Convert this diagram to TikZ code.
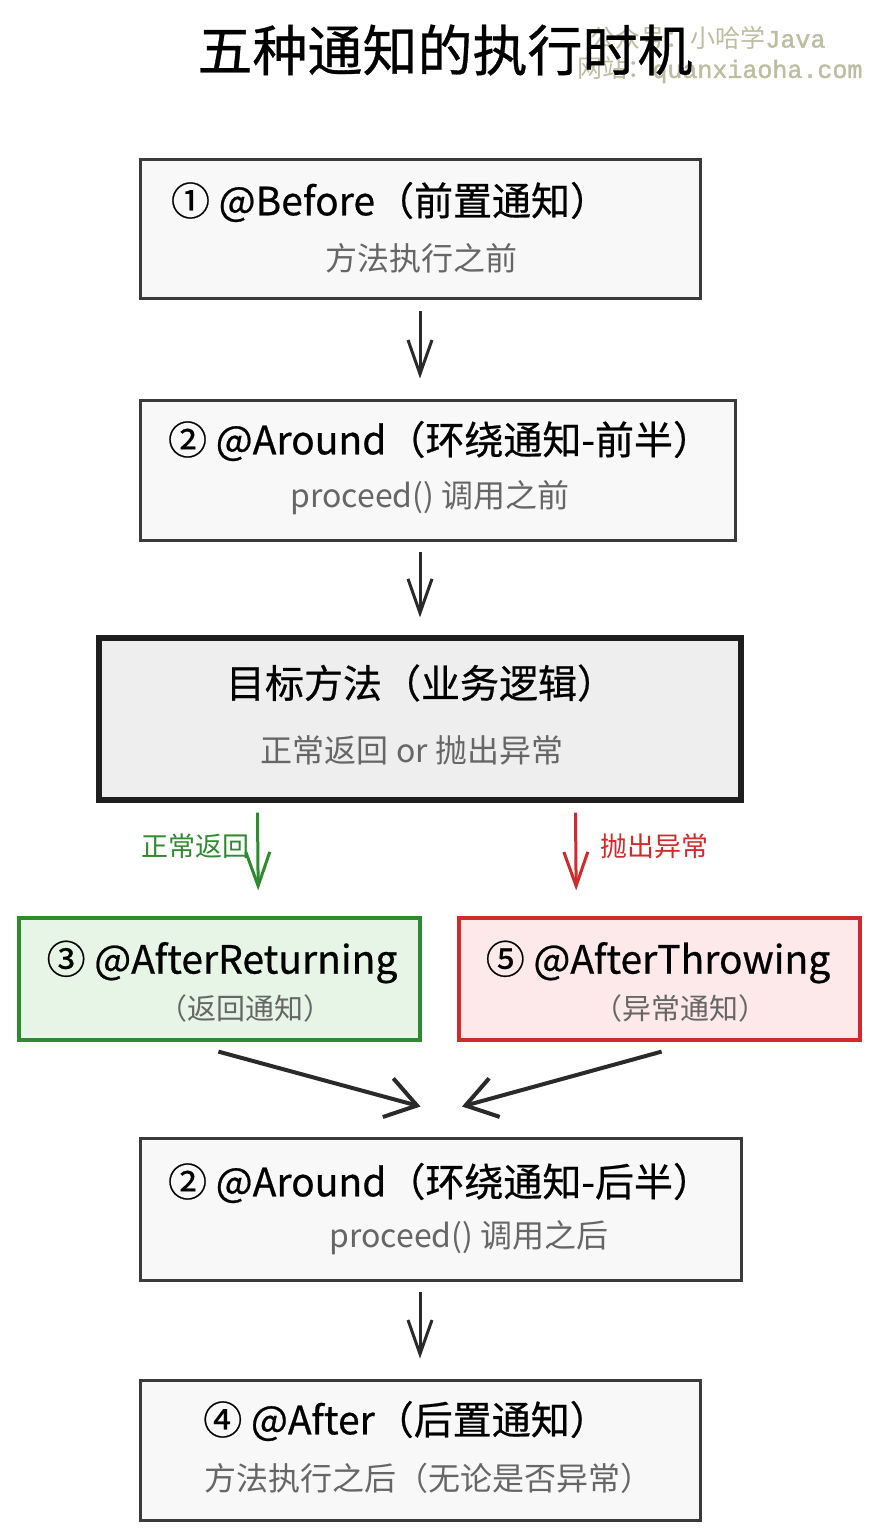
\documentclass[tikz,border=0pt]{standalone}
\usepackage{fontspec}
\setmainfont{Noto Sans CJK SC}
\newfontfamily\mfont{Noto Sans CJK SC}[FakeBold=0.6]
\newfontfamily\wmmono{Liberation Mono}[FakeBold=1.5]
\usetikzlibrary{arrows.meta}
\definecolor{boxline}{HTML}{3A3A3A}
\definecolor{boxfill}{HTML}{F8F8F8}
\definecolor{tgtline}{HTML}{1E1E1E}
\definecolor{tgtfill}{HTML}{EEEEEE}
\definecolor{grnline}{HTML}{2F8A2F}
\definecolor{grnfill}{HTML}{E6F5E6}
\definecolor{redline}{HTML}{D02A2A}
\definecolor{redfill}{HTML}{FDE9EA}
\definecolor{subgray}{HTML}{666666}
\definecolor{wmark}{HTML}{BDBDA0}
\definecolor{arrowc}{HTML}{2A2A2A}
\tikzset{
  box/.style={draw=boxline, fill=boxfill, line width=1.5pt, inner sep=0pt, rectangle},
  tgtbox/.style={draw=tgtline, fill=tgtfill, line width=2.6pt, inner sep=0pt, rectangle},
  grnbox/.style={draw=grnline, fill=grnfill, line width=1.6pt, inner sep=0pt, rectangle},
  redbox/.style={draw=redline, fill=redfill, line width=1.6pt, inner sep=0pt, rectangle},
  maintxt/.style={font=\mfont\fontsize{19.5}{22}\selectfont, text=black, inner sep=0pt},
  subtxt/.style={font=\fontsize{16}{19}\selectfont, text=subgray, inner sep=0pt},
  small/.style={font=\fontsize{14.5}{17}\selectfont, text=subgray, inner sep=0pt},
  lbl/.style={font=\fontsize{13.5}{16}\selectfont, inner sep=0pt},
  tip/.style={-{Straight Barb[length=17pt,width=12pt,line width=1.5pt]}},
  arr/.style={draw=arrowc, line width=1.5pt, tip},
  bigarr/.style={draw=arrowc, line width=2pt, -{Straight Barb[length=15pt,width=20pt,line width=2pt]}},
  garr/.style={draw=grnline, line width=1.5pt, tip},
  rarr/.style={draw=redline, line width=1.5pt, tip},
}
\begin{document}
\begin{tikzpicture}[x=0.5pt,y=-0.5pt]
\useasboundingbox[fill=white] (0,0) rectangle (880,1540);

% watermark
\node[font=\fontsize{12.5}{15}\selectfont, text=wmark, anchor=west, inner sep=0pt] (wm1) at (590,38) {公众号：小哈学{\wmmono Java}};
\node[font=\fontsize{12.5}{15}\selectfont, text=wmark, anchor=west, inner sep=0pt] (wm2) at (577,70) {网站：{\wmmono quanxiaoha.com}};

% title
\node[font=\mfont\fontsize{27.5}{30}\selectfont, inner sep=0pt] (title) at (445,50) {五种通知的执行时机};

% boxes
\node[box, minimum width=280pt, minimum height=69.5pt] (b1) at (420,229.5) {};
\node[box, minimum width=297.5pt, minimum height=70pt] (b2) at (437.5,470) {};
\node[tgtbox, minimum width=321pt, minimum height=81pt] (b3) at (420,719) {};
\node[grnbox, minimum width=200.5pt, minimum height=61pt] (b4) at (219.5,979) {};
\node[redbox, minimum width=200.5pt, minimum height=61pt] (b5) at (659.5,979) {};
\node[box, minimum width=300.5pt, minimum height=71pt] (b6) at (440.5,1209) {};
\node[box, minimum width=280pt, minimum height=70pt] (b7) at (420,1450) {};

% texts
\node[maintxt] (t1a) at (390,202) {① @Before（前置通知）};
\node[subtxt] (t1b) at (421,258) {方法执行之前};
\node[maintxt] (t2a) at (440,441) {② @Around（环绕通知-前半）};
\node[subtxt] (t2b) at (430,498) {proceed() 调用之前};
\node[maintxt] (t3a) at (421,683) {目标方法（业务逻辑）};
\node[subtxt] (t3b) at (412,750) {正常返回 or 抛出异常};
\node[maintxt] (t4a) at (222,962) {③ @AfterReturning};
\node[small] (t4b) at (245,1008) {（返回通知）};
\node[maintxt] (t5a) at (658,962) {⑤ @AfterThrowing};
\node[small] (t5b) at (680,1008) {（异常通知）};
\node[maintxt] (t6a) at (440,1183) {② @Around（环绕通知-后半）};
\node[subtxt] (t6b) at (469,1238) {proceed() 调用之后};
\node[maintxt] (t7a) at (406,1421) {④ @After（后置通知）};
\node[subtxt] (t7b) at (428,1478) {方法执行之后（无论是否异常）};

% connectors
\draw[arr, shorten <=5.5pt, shorten >=10pt] (b1.south) -- (b1.south |- b2.north);
\draw[arr, shorten <=5pt, shorten >=9pt] (b2.south -| b3.north) -- (b3.north);
\draw[garr, shorten <=5pt, shorten >=13pt] ([xshift=80.5pt]b3.south west) -- ([xshift=120.5pt]b4.north west);
\draw[rarr, shorten <=5pt, shorten >=13pt] ([xshift=239.5pt]b3.south west) -- ([xshift=59.5pt]b5.north west);
\draw[bigarr] ([xshift=100.5pt,yshift=-5pt]b4.south west) -- ([xshift=-10pt,yshift=15pt]b6.north);
\draw[bigarr] ([xshift=-100pt,yshift=-5pt]b5.south east) -- ([xshift=10.75pt,yshift=15pt]b6.north);
\draw[arr, shorten <=5pt, shorten >=10pt] (b6.south -| b7.north) -- (b7.north);

% branch labels
\node[lbl, text=grnline, anchor=east] (lg) at (250,846) {正常返回};
\node[lbl, text=redline, anchor=west] (lr) at (600,846) {抛出异常};
\end{tikzpicture}
\end{document}
